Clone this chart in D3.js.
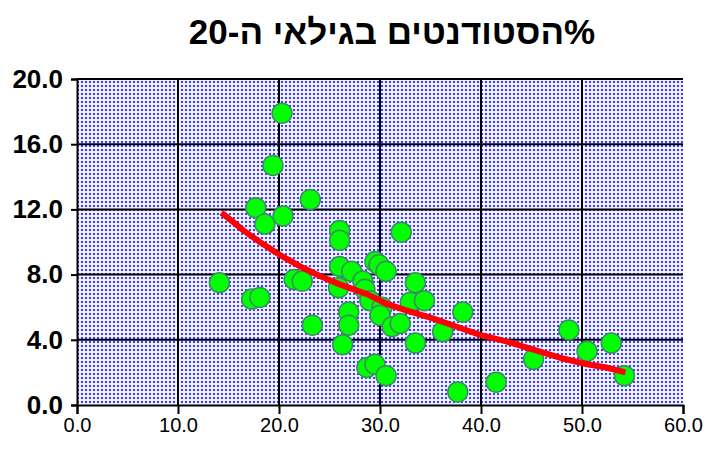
<!DOCTYPE html>
<html>
<head>
<meta charset="utf-8">
<script src="https://cdn.jsdelivr.net/npm/d3@7"></script>
<style>
  body { margin: 0; background: #fff; }
  text { font-family: "Liberation Sans", Arial, sans-serif; }
</style>
</head>
<body>
<svg id="chart" width="706" height="452"></svg>
<script>
// students aged 20 (%) - scatter points
const pointsX = [14.1, 17.3, 18.1, 17.7, 18.6, 19.4, 20.3, 20.4, 21.5, 22.3, 23.1, 23.3,
    26.0, 26.0, 26.0, 27.2, 25.9, 28.3, 28.5, 29.5, 29.9, 30.6, 29.0, 30.2, 30.0,
    26.9, 26.9, 26.3, 31.2, 32.0, 32.1, 33.5, 33.0, 34.4, 33.5, 36.2, 38.2,
    28.7, 29.5, 30.6, 37.7, 41.5, 45.2, 48.7, 50.5, 52.9, 54.2];
const pointsY = [7.5, 6.5, 6.6, 12.1, 11.1, 14.7, 17.9, 11.6, 7.7, 7.6, 12.6, 4.9,
    10.7, 10.1, 8.5, 8.2, 7.2, 7.6, 7.1, 8.8, 8.6, 8.2, 6.4, 6.0, 5.5,
    5.7, 4.9, 3.7, 4.8, 5.0, 10.6, 7.5, 6.3, 6.4, 3.8, 4.5, 5.7,
    2.3, 2.5, 1.8, 0.8, 1.4, 2.8, 4.6, 3.3, 3.8, 1.8];

// trend line (red) read along its path
const trendX = [14.3, 15.5, 16.5, 18.1, 20.1, 22.1, 24.1, 26.0, 28.7, 30.7, 32.6, 35.3,
    37.6, 39.9, 42.5, 45.2, 47.8, 50.5, 52.4, 54.3];
const trendY = [11.8, 11.2, 10.7, 10.0, 9.2, 8.5, 7.9, 7.4, 6.8, 6.2, 5.8, 5.3,
    4.8, 4.3, 3.9, 3.4, 2.9, 2.5, 2.3, 2.0];

const xTicks = [0, 10, 20, 30, 40, 50, 60];
const yTicks = [0, 4, 8, 12, 16, 20];
const title = "%הסטודנטים בגילאי ה-20";

const svg = d3.select("#chart");
const plotLeft = 77, plotRight = 683, plotTop = 79, plotBottom = 405;

const x = d3.scaleLinear().domain([0, 60]).range([plotLeft, plotRight]);
const y = d3.scaleLinear().domain([0, 20]).range([plotBottom, plotTop]);

// dotted blue fill of the plot area
const defs = svg.append("defs");
const pat = defs.append("pattern")
    .attr("id", "dots")
    .attr("patternUnits", "userSpaceOnUse")
    .attr("width", 4)
    .attr("height", 4);
pat.append("rect").attr("width", 4).attr("height", 4).attr("fill", "#ffffff");
pat.append("rect").attr("x", 0.5).attr("y", 0.5).attr("width", 3).attr("height", 3).attr("fill", "#d8d8ff");
pat.append("rect").attr("x", 1).attr("y", 1).attr("width", 2).attr("height", 2).attr("fill", "#3c3cff");

svg.append("rect")
    .attr("x", plotLeft)
    .attr("y", plotTop)
    .attr("width", plotRight - plotLeft)
    .attr("height", plotBottom - plotTop)
    .attr("fill", "url(#dots)");

// grid lines
svg.append("g")
    .selectAll("line")
    .data(yTicks.slice(1))
    .join("line")
    .attr("x1", plotLeft)
    .attr("x2", plotRight)
    .attr("y1", d => y(d))
    .attr("y2", d => y(d))
    .style("stroke", "black")
    .style("stroke-width", 2);

svg.append("g")
    .selectAll("line")
    .data(xTicks.slice(1, -1))
    .join("line")
    .attr("x1", d => x(d))
    .attr("x2", d => x(d))
    .attr("y1", plotTop)
    .attr("y2", plotBottom)
    .style("stroke", "black")
    .style("stroke-width", 2);

// axes
const yAxis = svg.append("g")
    .attr("transform", "translate(" + plotLeft + ",0)")
    .call(d3.axisLeft(y).tickValues(yTicks).tickSize(6).tickPadding(8).tickFormat(d3.format(".1f")));
yAxis.select(".domain").style("stroke-width", 2);
yAxis.selectAll(".tick line").style("stroke-width", 2);
yAxis.selectAll("text")
    .style("font-size", "26px")
    .style("font-weight", "bold")
    .style("font-family", "'Liberation Sans', Arial, sans-serif")
    .attr("fill", "black");

const xAxis = svg.append("g")
    .attr("transform", "translate(0," + plotBottom + ")")
    .call(d3.axisBottom(x).tickValues(xTicks).tickSize(9).tickPadding(4).tickFormat(d3.format(".1f")));
xAxis.select(".domain").style("stroke-width", 2);
xAxis.selectAll(".tick line").style("stroke-width", 2);
xAxis.selectAll("text")
    .style("font-size", "20px")
    .style("font-family", "'Liberation Sans', Arial, sans-serif")
    .attr("fill", "black");

// points
svg.append("g")
    .selectAll("circle")
    .data(pointsX.map((d, i) => [d, pointsY[i]]))
    .join("circle")
    .attr("cx", d => x(d[0]))
    .attr("cy", d => y(d[1]))
    .attr("r", 10)
    .style("fill", "#00ff00")
    .style("stroke", "#3f8a62")
    .style("stroke-width", 1.5);

// trend line
const line = d3.line().x(d => x(d[0])).y(d => y(d[1]));
svg.append("path")
    .datum(trendX.map((d, i) => [d, trendY[i]]))
    .attr("d", line)
    .style("fill", "none")
    .style("stroke", "#ff0000")
    .style("stroke-width", 6)
    .style("stroke-linejoin", "round");

// title
svg.append("text")
    .attr("x", 392)
    .attr("y", 44)
    .attr("direction", "rtl")
    .attr("text-anchor", "middle")
    .style("font-size", "35px")
    .style("font-weight", "bold")
    .text(title);
</script>
</body>
</html>
